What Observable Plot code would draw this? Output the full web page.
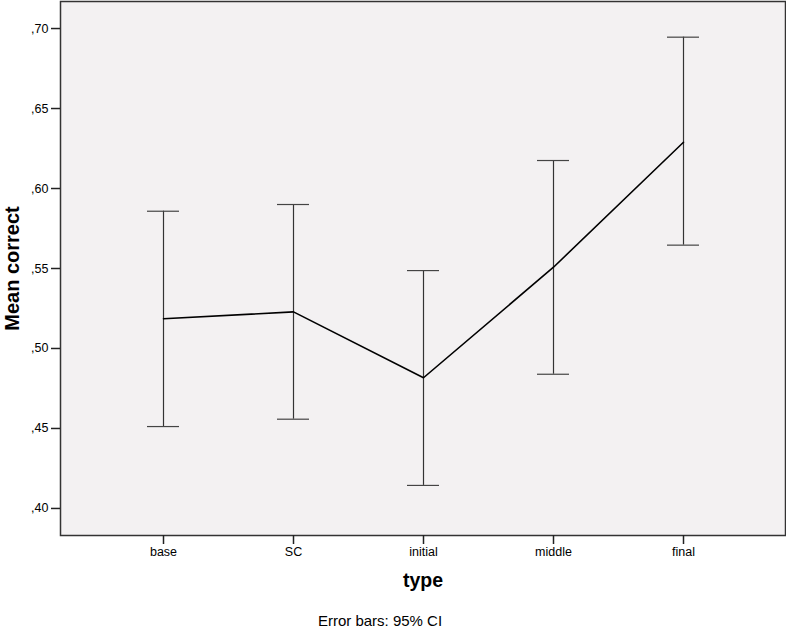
<!DOCTYPE html>
<html>
<head>
<meta charset="utf-8">
<script src="https://cdn.jsdelivr.net/npm/d3@7"></script>
<script src="https://cdn.jsdelivr.net/npm/@observablehq/plot@0.6"></script>
<style>
  html, body { margin: 0; padding: 0; background: #fff; }
  body { width: 786px; height: 628px; overflow: hidden; font-family: "Liberation Sans", Arial, sans-serif; }
  #chart svg { display: block; }
  #caption { width: 760px; text-align: center; font-size: 15px; line-height: 16px; color: #000; margin-top: 7px; }
</style>
</head>
<body>
<div id="chart"></div>
<div id="caption">Error bars: 95% CI</div>
<script>
const categories = ["base", "SC", "initial", "middle", "final"];
const means = [0.5186, 0.5229, 0.4817, 0.5508, 0.6289];
const upper = [0.5858, 0.5900, 0.5487, 0.6175, 0.6946];
const lower = [0.4512, 0.4558, 0.4144, 0.4839, 0.5646];
const yTicks = [0.40, 0.45, 0.50, 0.55, 0.60, 0.65, 0.70];

const data = categories.map((c, i) => ({type: c, mean: means[i], hi: upper[i], lo: lower[i]}));
const fmt = d => d3.format(".2f")(d).replace(/^0\./, ",");

const chart = Plot.plot({
  width: 786,
  height: 606,
  marginLeft: 60,
  marginRight: 1,
  marginTop: 1,
  marginBottom: 71,
  style: {fontFamily: "Liberation Sans, Arial, sans-serif", color: "#000", background: "#fff"},
  x: {type: "band", domain: categories, paddingInner: 0.7548, paddingOuter: 0.6552},
  y: {domain: [0.3831, 0.7169]},
  marks: [
    Plot.frame({fill: "#f3f1f2", stroke: "#333", strokeWidth: 1.5}),
    Plot.axisY({ticks: yTicks, tickFormat: fmt, tickSize: 9, tickPadding: 3, fontSize: 12.5, label: null, stroke: "#222", strokeWidth: 1.5}),
    Plot.axisX({tickSize: 9, tickPadding: 3, fontSize: 12.5, label: null, stroke: "#222", strokeWidth: 1.5}),
    Plot.ruleX(data, {x: "type", y1: "lo", y2: "hi", stroke: "#333", strokeWidth: 1.2}),
    Plot.tickY(data, {x: "type", y: "hi", stroke: "#444", strokeWidth: 1.2}),
    Plot.tickY(data, {x: "type", y: "lo", stroke: "#444", strokeWidth: 1.2}),
    Plot.line(data, {x: "type", y: "mean", stroke: "#000", strokeWidth: 1.6}),
    Plot.text(["Mean correct"], {frameAnchor: "left", textAnchor: "middle", dx: -48, rotate: -90, fontSize: 20, fontWeight: "bold", fill: "#000"}),
    Plot.text(["type"], {frameAnchor: "bottom", textAnchor: "middle", dy: 51, fontSize: 19.5, fontWeight: "bold", fill: "#000"})
  ]
});
document.getElementById("chart").appendChild(chart);
</script>
</body>
</html>
